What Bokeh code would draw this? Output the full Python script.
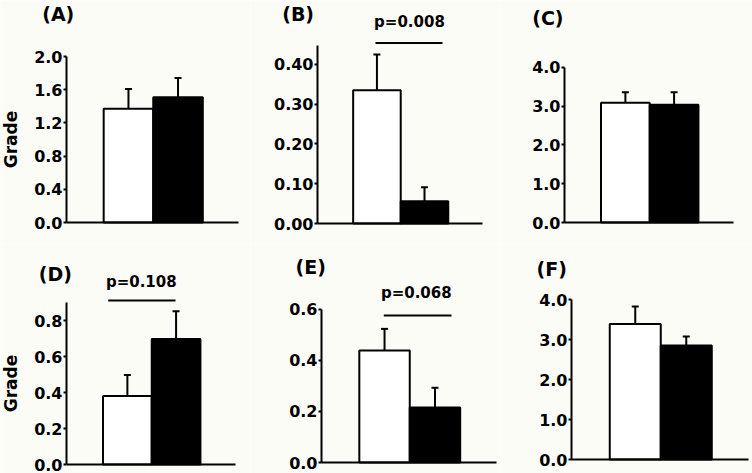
from bokeh.plotting import figure
from bokeh.models import Range1d, FixedTicker, Whisker, TeeHead, Label, ColumnDataSource
from bokeh.layouts import row, column
from bokeh.embed import file_html
from bokeh.resources import INLINE

# ---------------- data ----------------
panel_names = ["(A)", "(B)", "(C)", "(D)", "(E)", "(F)"]
groups = ["Group 1", "Group 2"]
bar_fill = ["white", "black"]

means_A = [1.37, 1.51]
errs_A = [0.24, 0.23]
means_B = [0.335, 0.056]
errs_B = [0.090, 0.035]
means_C = [3.09, 3.04]
errs_C = [0.27, 0.32]
means_D = [0.381, 0.697]
errs_D = [0.116, 0.154]
means_E = [0.439, 0.216]
errs_E = [0.085, 0.077]
means_F = [3.39, 2.85]
errs_F = [0.435, 0.225]

ticks_A = [0.0, 0.4, 0.8, 1.2, 1.6, 2.0]
ticks_B = [0.0, 0.1, 0.2, 0.3, 0.4]
ticks_C = [0.0, 1.0, 2.0, 3.0, 4.0]
ticks_D = [0.0, 0.2, 0.4, 0.6, 0.8]
ticks_E = [0.0, 0.2, 0.4, 0.6]
ticks_F = [0.0, 1.0, 2.0, 3.0, 4.0]

decimals = [1, 2, 1, 1, 1, 1]
y_titles = ["Grade", "", "", "Grade", "", ""]
p_texts = [None, "p=0.008", None, "p=0.108", "p=0.068", None]

means = [means_A, means_B, means_C, means_D, means_E, means_F]
errs = [errs_A, errs_B, errs_C, errs_D, errs_E, errs_F]
ticks = [ticks_A, ticks_B, ticks_C, ticks_D, ticks_E, ticks_F]

# ---------------- layout (positions / sizes, in pixels) ----------------
X0, X1 = -0.25, 3.22  # x extent of the axes (bars sit at 1 and 2)
# width, height, px left of y axis, px right of x-axis end, px below y=0,
# y value at the figure's top edge, top of the y-axis line
geom = [
    (250, 243, 66, 12, 21, 2.675, 2.0),
    (250, 243, 67, 18, 20, 0.561, 0.448),
    (252, 243, 64, 19, 21, 5.729, 4.0),
    (250, 230, 66, 15, 9, 1.228, 0.9),
    (250, 230, 71, 4, 11, 0.8588, 0.6),
    (252, 230, 71, 4, 14, 5.4, 4.0),
]
# panel letter: left edge / vertical centre, px from the figure's top-left
label_px = [(41.7, 13.7), (31.7, 13.7), (31.7, 17.8),
            (38.3, 30.3), (45.0, 23.7), (36.0, 25.5)]
# p-value text centre, px from the figure's top-left
p_px = [None, (159.0, 21.5), None, (140.8, 38.0), (165.8, 49.5), None]
# significance bar: x0, x1, y in px from the figure's top-left
sig_px = [None, (125.0, 192.0, 42.5), None, (107.7, 175.0, 57.0),
          (133.3, 201.0, 72.0), None]

BG = "#fcfcf7"
FONT = "DejaVu Sans"

figs = []
for i in range(6):
    w, h, bl, br, bb, yend, ytop = geom[i]
    fw = w - bl - br
    fh = h - bb
    ux = (X1 - X0) / fw
    uy = yend / fh
    xs0, xs1 = X0 - bl * ux, X1 + br * ux
    ys0 = -bb * uy
    p = figure(width=w, height=h, output_backend="svg", toolbar_location=None,
               x_range=Range1d(xs0, xs1), y_range=Range1d(ys0, yend),
               min_border=0)
    p.background_fill_color = BG
    p.border_fill_color = BG
    p.outline_line_color = None
    p.grid.visible = False

    def dx(px):
        return xs0 + px * (xs1 - xs0) / w

    def dy(py):
        return yend - py * (yend - ys0) / h

    xs = [k + 1 for k in range(len(groups))]
    src = ColumnDataSource(dict(
        x=xs, top=means[i],
        upper=[m + e for m, e in zip(means[i], errs[i])],
        fill=bar_fill))
    wh = Whisker(source=src, base="x", lower="top", upper="upper",
                 line_width=2, line_color="black", lower_head=None,
                 upper_head=TeeHead(size=7, line_width=2, line_color="black"))
    p.add_layout(wh)
    p.vbar(x="x", top="top", bottom=0, width=1.0, source=src,
           fill_color="fill", line_color="black", line_width=2)

    # y axis
    ya = p.yaxis[0]
    ya.fixed_location = X0
    ya.ticker = FixedTicker(ticks=ticks[i])
    ya.major_label_overrides = {t: f"{t:.{decimals[i]}f}" for t in ticks[i]}
    ya.bounds = (0, ytop)
    ya.axis_line_width = 2
    ya.axis_line_color = "black"
    ya.major_tick_line_width = 2
    ya.major_tick_in = 0
    ya.major_tick_out = 3
    ya.minor_tick_line_color = None
    ya.major_label_standoff = 1
    ya.major_label_text_font = FONT
    ya.major_label_text_font_style = "bold"
    ya.major_label_text_font_size = "16px"
    ya.major_label_text_color = "black"
    if y_titles[i]:
        ya.axis_label = y_titles[i]
        ya.axis_label_text_font = FONT
        ya.axis_label_text_font_style = "bold"
        ya.axis_label_text_font_size = "17px"
        ya.axis_label_text_color = "black"
        ya.axis_label_standoff = 10

    # x axis: line only
    xa = p.xaxis[0]
    xa.fixed_location = 0
    xa.bounds = (X0, X1)
    xa.axis_line_width = 2
    xa.axis_line_color = "black"
    xa.major_tick_line_color = None
    xa.minor_tick_line_color = None
    xa.major_label_text_font_size = "0px"
    xa.major_tick_out = 0
    xa.major_label_standoff = 0

    lx, ly = label_px[i]
    p.add_layout(Label(x=dx(lx), y=dy(ly), text=panel_names[i], text_font=FONT,
                       text_font_style="bold", text_font_size="19px",
                       text_align="left", text_baseline="middle",
                       text_color="black"))
    if p_texts[i]:
        px, py = p_px[i]
        p.add_layout(Label(x=dx(px), y=dy(py), text=p_texts[i], text_font=FONT,
                           text_font_style="bold", text_font_size="15px",
                           text_align="center", text_baseline="middle",
                           text_color="black"))
        a, b, c = sig_px[i]
        p.line(x=[dx(a), dx(b)], y=[dy(c), dy(c)], line_width=2, line_color="black")
    figs.append(p)

layout = column(row(figs[0], figs[1], figs[2]), row(figs[3], figs[4], figs[5]))
open("out.html", "w").write(file_html(layout, INLINE))
